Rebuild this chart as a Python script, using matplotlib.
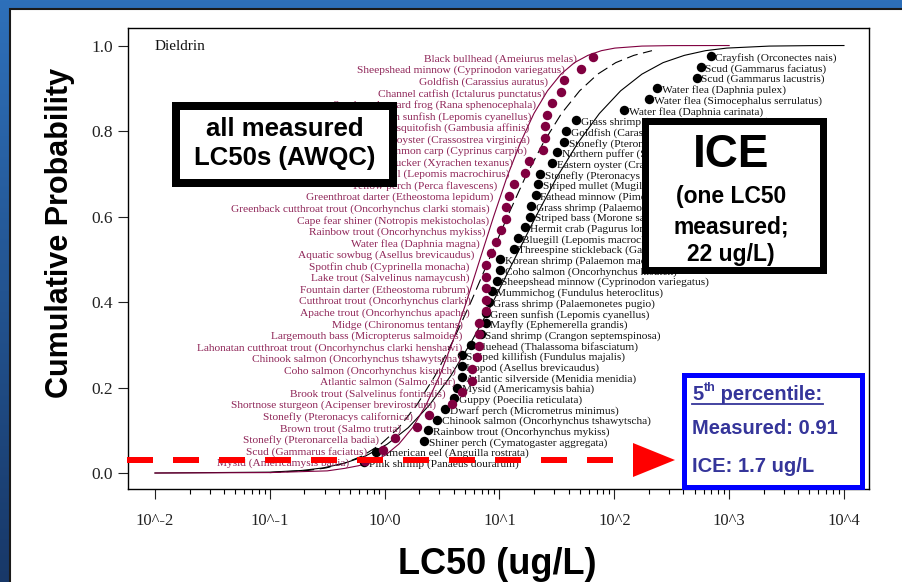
import numpy as np
import matplotlib
matplotlib.use('Agg')
import matplotlib.pyplot as plt
from matplotlib.patches import Rectangle, Polygon
from matplotlib.lines import Line2D
from matplotlib.ticker import FixedLocator, FixedFormatter, NullFormatter

# ---------------- data ----------------
measured_species = [
    "Mysid (Americamysis bahia)",
    "Scud (Gammarus faciatus)",
    "Stonefly (Pteronarcella badia)",
    "Brown trout (Salmo trutta)",
    "Stonefly (Pteronacys californica)",
    "Shortnose sturgeon (Acipenser brevirostrum)",
    "Brook trout (Salvelinus fontinalis)",
    "Atlantic salmon (Salmo salar)",
    "Coho salmon (Oncorhynchus kisutch)",
    "Chinook salmon (Oncorhynchus tshawytscha)",
    "Lahonatan cutthroat trout (Oncorhynchus clarki henshawi)",
    "Largemouth bass (Micropterus salmoides)",
    "Midge (Chironomus tentans)",
    "Apache trout (Oncorhynchus apache)",
    "Cutthroat trout (Oncorhynchus clarki)",
    "Fountain darter (Etheostoma rubrum)",
    "Lake trout (Salvelinus namaycush)",
    "Spotfin chub (Cyprinella monacha)",
    "Aquatic sowbug (Asellus brevicaudus)",
    "Water flea (Daphnia magna)",
    "Rainbow trout (Oncorhynchus mykiss)",
    "Cape fear shiner (Notropis mekistocholas)",
    "Greenback cutthroat trout (Oncorhynchus clarki stomais)",
    "Greenthroat darter (Etheostoma lepidum)",
    "Yellow perch (Perca flavescens)",
    "Bluegill (Lepomis macrochirus)",
    "Razorback sucker (Xyrachen texanus)",
    "Common carp (Cyprinus carpio)",
    "Eastern oyster (Crassostrea virginica)",
    "Mosquitofish (Gambusia affinis)",
    "Green sunfish (Lepomis cyanellus)",
    "Southern leopard frog (Rana sphenocephala)",
    "Channel catfish (Ictalurus punctatus)",
    "Goldfish (Carassius auratus)",
    "Sheepshead minnow (Cyprinodon variegatus)",
    "Black bullhead (Ameiurus melas)",
]
measured_lc50 = [0.68, 0.97, 1.23, 1.91, 2.43, 3.84, 4.69, 5.73, 5.8, 6.32,
                 6.59, 6.59, 6.59, 7.57, 7.69, 7.57, 7.57, 7.57, 8.37, 9.3,
                 10.4, 11.3, 11.3, 12.2, 13.3, 16.8, 17.9, 24.1, 25.1, 25.1,
                 26.1, 28.9, 34.6, 36.7, 51.5, 65.5]

ice_species = [
    "Pink shrimp (Panaeus dourarum)",
    "American eel (Anguilla rostrata)",
    "Shiner perch (Cymatogaster aggregata)",
    "Rainbow trout (Oncorhynchus mykiss)",
    "Chinook salmon (Oncorhynchus tshawytscha)",
    "Dwarf perch (Micrometrus minimus)",
    "Guppy (Poecilia reticulata)",
    "Mysid (Americamysis bahia)",
    "Atlantic silverside (Menidia menidia)",
    "Isopod (Asellus brevicaudus)",
    "Striped killifish (Fundulus majalis)",
    "Bluehead (Thalassoma bifasciatum)",
    "Sand shrimp (Crangon septemspinosa)",
    "Mayfly (Ephemerella grandis)",
    "Green sunfish (Lepomis cyanellus)",
    "Grass shrimp (Palaemonetes pugio)",
    "Mummichog (Fundulus heteroclitus)",
    "Sheepshead minnow (Cyprinodon variegatus)",
    "Coho salmon (Oncorhynchus kisutch)",
    "Korean shrimp (Palaemon macrodactylus)",
    "Threespine stickleback (Gasterosteus aculeatus)",
    "Bluegill (Lepomis macrochirus)",
    "Hermit crab (Pagurus longicarpus)",
    "Striped bass (Morone saxatilis)",
    "Grass shrimp (Palaemonetes vulgaris)",
    "Fathead minnow (Pimephales promelas)",
    "Striped mullet (Mugil cephalus)",
    "Stonefly (Pteronacys dorsata)",
    "Eastern oyster (Crassostrea virginica)",
    "Northern puffer (Sphoeroides maculatus)",
    "Stonefly (Pteronarcys californica)",
    "Goldfish (Carassius auratus)",
    "Grass shrimp (Palaemonetes kadiakensis)",
    "Water flea (Daphnia carinata)",
    "Water flea (Simocephalus serrulatus)",
    "Water flea (Daphnia pulex)",
    "Scud (Gammarus lacustris)",
    "Scud (Gammarus faciatus)",
    "Crayfish (Orconectes nais)",
]
ice_lc50 = [0.66, 0.84, 2.20, 2.38, 2.85, 3.34, 4.0, 4.25, 4.69, 4.69,
            4.69, 5.61, 6.85, 7.57, 7.57, 8.04, 8.53, 9.44, 10.2, 10.2,
            13.3, 14.4, 16.8, 18.6, 19.0, 20.6, 21.8, 22.7, 28.9, 31.9,
            36.7, 38.2, 46.6, 122, 200, 235, 522, 566, 691]

# fitted curves (log10 LC50, cumulative probability)
measured_fit_log = [-2.0, -1.0, -0.5, -0.345, -0.228, -0.11, 0.008, 0.125, 0.243,
                    0.36, 0.478, 0.595, 0.713, 0.83, 0.948, 1.065, 1.183, 1.30,
                    1.418, 1.535, 1.653, 1.77, 1.888, 2.005, 2.24, 2.5, 3.0]
measured_fit_p = [0.0, 0.001, 0.005, 0.011, 0.017, 0.026, 0.042, 0.068, 0.106,
                  0.159, 0.227, 0.309, 0.401, 0.500, 0.599, 0.692, 0.773, 0.841,
                  0.894, 0.933, 0.960, 0.977, 0.988, 0.994, 0.9987, 0.9998, 1.0]

ice_fit_log = [-2.0, -1.0, -0.72, -0.535, -0.35, -0.165, 0.02, 0.205, 0.39, 0.575,
               0.76, 0.945, 1.13, 1.315, 1.50, 1.685, 1.87, 2.055, 2.24, 2.425,
               2.61, 2.795, 2.98, 3.35, 3.72, 4.0]
ice_fit_p = [0.0, 0.002, 0.006, 0.012, 0.023, 0.040, 0.067, 0.106, 0.159, 0.227,
             0.309, 0.401, 0.500, 0.599, 0.692, 0.773, 0.841, 0.894, 0.933, 0.960,
             0.977, 0.988, 0.994, 0.9987, 0.9998, 1.0]

ice_bound_log = [-1.0, -0.665, -0.508, -0.35, -0.193, -0.035, 0.123, 0.28, 0.438,
                 0.595, 0.753, 0.91, 1.068, 1.225, 1.383, 1.54, 1.698, 1.855,
                 2.013, 2.17, 2.328]
ice_bound_p = [0.001, 0.006, 0.012, 0.023, 0.040, 0.067, 0.106, 0.159, 0.227,
               0.309, 0.401, 0.500, 0.599, 0.692, 0.773, 0.841, 0.894, 0.933,
               0.960, 0.977, 0.988]

x_tick_values = [1e-2, 1e-1, 1e0, 1e1, 1e2, 1e3, 1e4]
x_tick_labels = ['10^-2', '10^-1', '10^0', '10^1', '10^2', '10^3', '10^4']
y_tick_values = [0.0, 0.2, 0.4, 0.6, 0.8, 1.0]
y_tick_labels = ['0.0', '0.2', '0.4', '0.6', '0.8', '1.0']

chemical = 'Dieldrin'
box_measured = ['all measured', 'LC50s (AWQC)']
box_ice_title = 'ICE'
box_ice_lines = ['(one LC50', 'measured;', '22 ug/L)']
pct_title_num, pct_title_sup, pct_title_rest = '5', 'th', ' percentile:'
pct_lines = ['Measured: 0.91', 'ICE: 1.7 ug/L']

# ---------------- style ----------------
W, H = 903, 582
MAROON = '#800040'
MAROON_TXT = '#8E2457'
SERIF = 'Liberation Serif'
SANS = 'Liberation Sans'
PCT_TXT = '#35359A'


def fx(px):
    return px / W


def fy(py):
    return 1 - py / H


fig = plt.figure(figsize=(W / 100, H / 100), dpi=100)

# background: blue slide gradient + white panel
bg = fig.add_axes([0, 0, 1, 1], zorder=-10)
bg.axis('off')
g = np.linspace(0, 1, 256)[:, None, None]
top = np.array([46, 112, 186]) / 255
bot = np.array([24, 56, 104]) / 255
img = top * (1 - g) + bot * g
bg.imshow(img, aspect='auto', extent=[0, 1, 0, 1])
bg.set_xlim(0, 1)
bg.set_ylim(0, 1)
fig.add_artist(Rectangle((fx(10), -0.02), 1.0, 1.02 - 9 / H, transform=fig.transFigure,
                         fc='white', ec='#1a1a1a', lw=1.5, zorder=-5))

# main axes
L, R, T, B = 128, 869, 28, 489
ax = fig.add_axes([fx(L), 1 - B / H, (R - L) / W, (B - T) / H], zorder=0)
ax.set_xscale('log')
ax.set_xlim(10 ** -2.235, 10 ** 4.218)
ax.set_ylim(-0.0374, 1.041)

ax.plot(10 ** np.array(ice_fit_log), ice_fit_p, color='black', lw=0.8, zorder=2)
ax.plot(10 ** np.array(ice_bound_log), ice_bound_p, color='black', lw=0.8,
        ls=(0, (10, 5)), zorder=2)
ax.plot(10 ** np.array(measured_fit_log), measured_fit_p, color=MAROON, lw=0.8, zorder=2)

p_ice = np.arange(1, len(ice_lc50) + 1) / (len(ice_lc50) + 1)
p_meas = np.arange(1, len(measured_lc50) + 1) / (len(measured_lc50) + 1)

ax.plot(ice_lc50, p_ice, 'o', color='black', ms=6.8, mew=0, zorder=3)
for name, x, p in zip(ice_species, ice_lc50, p_ice):
    ax.annotate(name, (x, p), xytext=(3.4, -1.4), textcoords='offset points',
                ha='left', va='center', fontsize=8.2, family=SERIF, color='#111111',
                zorder=3)

ax.plot(measured_lc50, p_meas, 'o', color=MAROON, ms=6.8, mew=0, zorder=5)
for name, x, p in zip(measured_species, measured_lc50, p_meas):
    ax.annotate(name, (x, p), xytext=(-11.5, -1.4), textcoords='offset points',
                ha='right', va='center', fontsize=8.2, family=SERIF, color=MAROON_TXT,
                zorder=4)

ax.text((155 - L) / (R - L), (B - 46) / (B - T), chemical, transform=ax.transAxes,
        ha='left', va='center', fontsize=11, family=SERIF, color='#111111')

# axes styling
ax.xaxis.set_major_locator(FixedLocator(x_tick_values))
ax.xaxis.set_major_formatter(FixedFormatter(x_tick_labels))
minor = [m * 10.0 ** d for d in range(-2, 4) for m in range(2, 10)]
ax.xaxis.set_minor_locator(FixedLocator(minor))
ax.xaxis.set_minor_formatter(NullFormatter())
ax.yaxis.set_major_locator(FixedLocator(y_tick_values))
ax.yaxis.set_major_formatter(FixedFormatter(y_tick_labels))
ax.tick_params(axis='x', which='major', direction='out', length=7, width=0.8,
               pad=10.5, labelsize=12, colors='#222222')
ax.tick_params(axis='x', which='minor', direction='out', length=3.5, width=0.8)
ax.tick_params(axis='y', which='major', direction='out', length=7, width=0.8,
               pad=4, labelsize=12.5, colors='#222222')
for lab in ax.get_xticklabels() + ax.get_yticklabels():
    lab.set_fontfamily(SERIF)
for s in ax.spines.values():
    s.set_linewidth(1.0)
    s.set_color('black')

# axis titles
fig.text(fx(60), fy(233), 'Cumulative Probability', rotation=90, ha='center',
         va='center', fontsize=22, fontweight='bold', family=SANS, color='black')
fig.text(fx(497), fy(565), 'LC50 (ug/L)', ha='center', va='center', fontsize=26,
         fontweight='bold', family=SANS, color='black')

# red dashed arrow
lw_pt = 6 * 0.72
fig.add_artist(Line2D([fx(127), fx(634)], [fy(460), fy(460)], transform=fig.transFigure,
                      color='#FF0000', lw=lw_pt, ls=(0, (26 * 0.72 / lw_pt, 20 * 0.72 / lw_pt)),
                      dash_capstyle='butt', zorder=6))
fig.add_artist(Polygon([[fx(633), fy(443)], [fx(675), fy(460)], [fx(633), fy(477)]],
                       closed=True, transform=fig.transFigure, fc='#FF0000', ec='none',
                       zorder=6))


def box(x0, y0, x1, y1, lwpx, ec, z):
    ins = lwpx / 2
    r = Rectangle((fx(x0 + ins), fy(y1 - ins)), (x1 - x0 - lwpx) / W, (y1 - y0 - lwpx) / H,
                  transform=fig.transFigure, fc='white', ec=ec, lw=lwpx * 0.72,
                  joinstyle='miter', zorder=z)
    fig.add_artist(r)


box(172, 102, 397, 187, 8, 'black', 7)
fig.text(fx(285), fy(129), box_measured[0], ha='center', va='center', fontsize=18.5,
         fontweight='bold', family=SANS, zorder=8)
fig.text(fx(285), fy(158), box_measured[1], ha='center', va='center', fontsize=18.5,
         fontweight='bold', family=SANS, zorder=8)

box(642, 117, 827, 273, 7, 'black', 7)
fig.text(fx(731), fy(155), box_ice_title, ha='center', va='center', fontsize=33,
         fontweight='bold', family=SANS, zorder=8)
for line, cy in zip(box_ice_lines, [197, 227, 254]):
    fig.text(fx(731), fy(cy), line, ha='center', va='center', fontsize=16.5,
             fontweight='bold', family=SANS, zorder=8)

box(682, 372, 865, 489, 5, '#0000FF', 7)
renderer = fig.canvas.get_renderer()
t5 = fig.text(fx(692), fy(394), pct_title_num, ha='left', va='center', fontsize=14.5,
              fontweight='bold', family=SANS, color=PCT_TXT, zorder=8)
bb = t5.get_window_extent(renderer)
tsup = fig.text((bb.x1 + 0.5) / W, fy(388), pct_title_sup, ha='left', va='center',
                fontsize=9, fontweight='bold', family=SANS, color=PCT_TXT, zorder=8)
bb2 = tsup.get_window_extent(renderer)
trest = fig.text(bb2.x1 / W, fy(394), pct_title_rest, ha='left', va='center',
                 fontsize=14.5, fontweight='bold', family=SANS, color=PCT_TXT, zorder=8)
bb3 = trest.get_window_extent(renderer)
fig.add_artist(Line2D([fx(692), bb3.x1 / W], [fy(403.5), fy(403.5)], transform=fig.transFigure,
                      color=PCT_TXT, lw=1.3, zorder=8))
for line, cy in zip(pct_lines, [429, 467]):
    fig.text(fx(692), fy(cy), line, ha='left', va='center', fontsize=14.5,
             fontweight='bold', family=SANS, color=PCT_TXT, zorder=8)

fig.savefig('out.png', dpi=100)
